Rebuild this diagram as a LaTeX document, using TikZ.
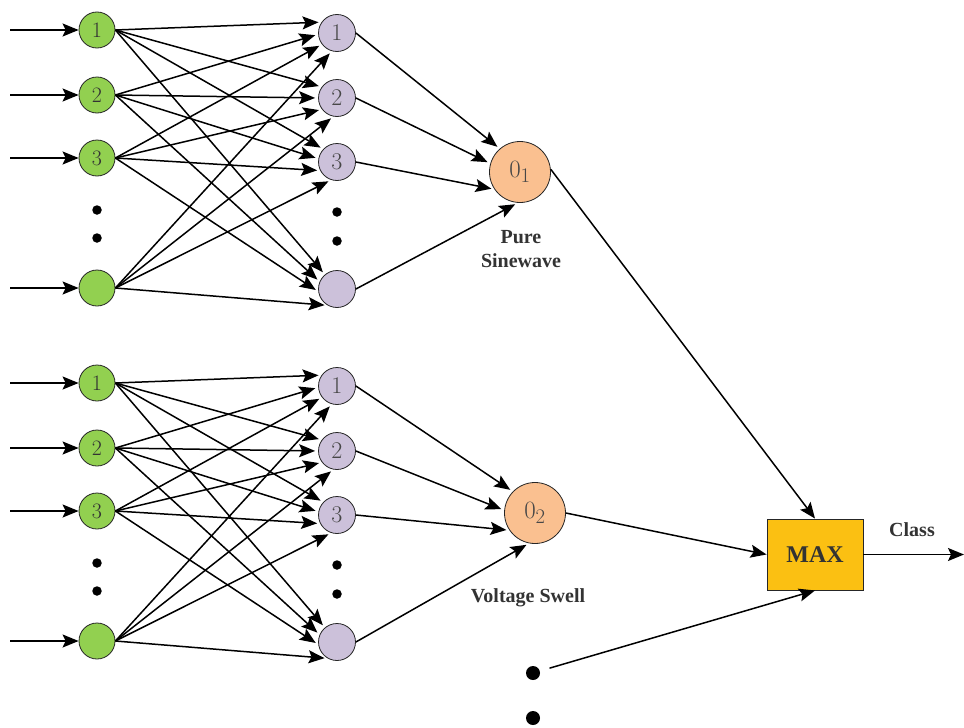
\documentclass[tikz,border=0pt]{standalone}
\usepackage{fontspec}
\usetikzlibrary{arrows.meta}
\newfontfamily\labelfont{Liberation Serif}
\definecolor{ingreen}{HTML}{92D050}
\definecolor{hidlav}{HTML}{CCC1DA}
\definecolor{outpeach}{HTML}{FAC090}
\definecolor{maxgold}{HTML}{FBC012}
\definecolor{inktext}{HTML}{333333}
\begin{document}
\begin{tikzpicture}[x=1pt,y=-1pt,
  inp/.style={circle, draw=black!85, line width=0.8pt, fill=ingreen, minimum size=36pt,
    inner sep=0pt, font=\fontsize{22}{22}\selectfont, text=inktext},
  hid/.style={circle, draw=black!85, line width=0.8pt, fill=hidlav, minimum size=37pt,
    inner sep=0pt, font=\fontsize{24}{24}\selectfont, text=black!72},
  outn/.style={circle, draw=black!85, line width=0.8pt, fill=outpeach, minimum size=61pt,
    inner sep=0pt, font=\fontsize{32}{32}\selectfont, text=black!72},
  maxbox/.style={draw=black!85, line width=0.9pt, fill=maxgold, minimum width=96pt,
    minimum height=71pt, inner sep=0pt, font=\labelfont\bfseries\fontsize{24}{24}\selectfont, text=inktext},
  lbl/.style={font=\labelfont\bfseries\fontsize{20}{24}\selectfont, text=inktext, align=center, inner sep=0pt},
  dotn/.style={circle, fill=black, inner sep=0pt, minimum size=9.5pt},
  bigdot/.style={circle, fill=black, inner sep=0pt, minimum size=14pt},
  tip/.style={-{Stealth[length=16pt,width=13pt,inset=3pt]}},
  conn/.style={line width=1.5pt, tip, shorten >=3pt},
  feed/.style={line width=1.5pt, tip},
]
\useasboundingbox (0,0) rectangle (964,728);

% two identical input/hidden layers, the lower one shifted down
\foreach \net/\d in {a/0,b/353} {
  \node[inp] (\net-i1) at (97,30+\d) {1};
  \node[inp] (\net-i2) at (97,95+\d) {2};
  \node[inp] (\net-i3) at (97,158+\d) {3};
  \node[inp] (\net-i4) at (97,288+\d) {};
  \node[hid] (\net-h1) at (337,33+\d) {1};
  \node[hid] (\net-h2) at (337,98+\d) {2};
  \node[hid] (\net-h3) at (337,162+\d) {3};
  \node[hid] (\net-h4) at (337,289+\d) {};
  \node[dotn] (\net-di1) at (97,210+\d) {};
  \node[dotn] (\net-di2) at (97,238+\d) {};
  \node[dotn] (\net-dh1) at (337,212+\d) {};
  \node[dotn] (\net-dh2) at (337,241+\d) {};
  % external inputs
  \coordinate (\net-x1) at (10,30+\d);
  \coordinate (\net-x2) at (10,95+\d);
  \coordinate (\net-x3) at (10,158+\d);
  \coordinate (\net-x4) at (10,288+\d);
}

% output neurons, decision box and labels
\node[outn] (o1) at (520,172) {$0_1$};
\node[outn] (o2) at (535,513) {$0_2$};
\node[maxbox] (max) at (815,554.5) {MAX};
\coordinate (cls) at (964,554.5);
\node[bigdot] (od1) at (533,673) {};
\node[bigdot] (od2) at (533,718) {};

\node[lbl] at (521,249) {Pure\\Sinewave};
\node[lbl] at (528,598) {Voltage Swell};
\node[lbl] at (912,530) {Class};

% input arrows
\foreach \net in {a,b}
  \foreach \k in {1,2,3,4}
    \draw[feed] (\net-x\k) -- (\net-i\k.west);

% fully connected input -> hidden layer
\foreach \net in {a,b} {
  \foreach \j/\angs in {1/{145,184,217,254},2/{144,180,217,259},3/{137,170,207,252},4/{130,157,188,240}} {
    \foreach \a [count=\k] in \angs {
      \draw[conn] (\net-i\k.east) -- (\net-h\j.\a);
    }
  }
}

% hidden -> output
\foreach \j/\a in {1/131,2/164,3/214,4/266}
  \draw[conn] (a-h\j.east) -- (o1.\a);
\foreach \j/\a in {1/136,2/175,3/214,4/259}
  \draw[conn] (b-h\j.east) -- (o2.\a);

% outputs -> MAX -> class
\draw[feed] (o1.5) -- (max.north);
\draw[feed] (o2.east) -- (max.west);
\draw[feed, shorten <=10pt] (od1) -- (max.south);
\draw[feed] (max.east) -- (cls);
\end{tikzpicture}
\end{document}
